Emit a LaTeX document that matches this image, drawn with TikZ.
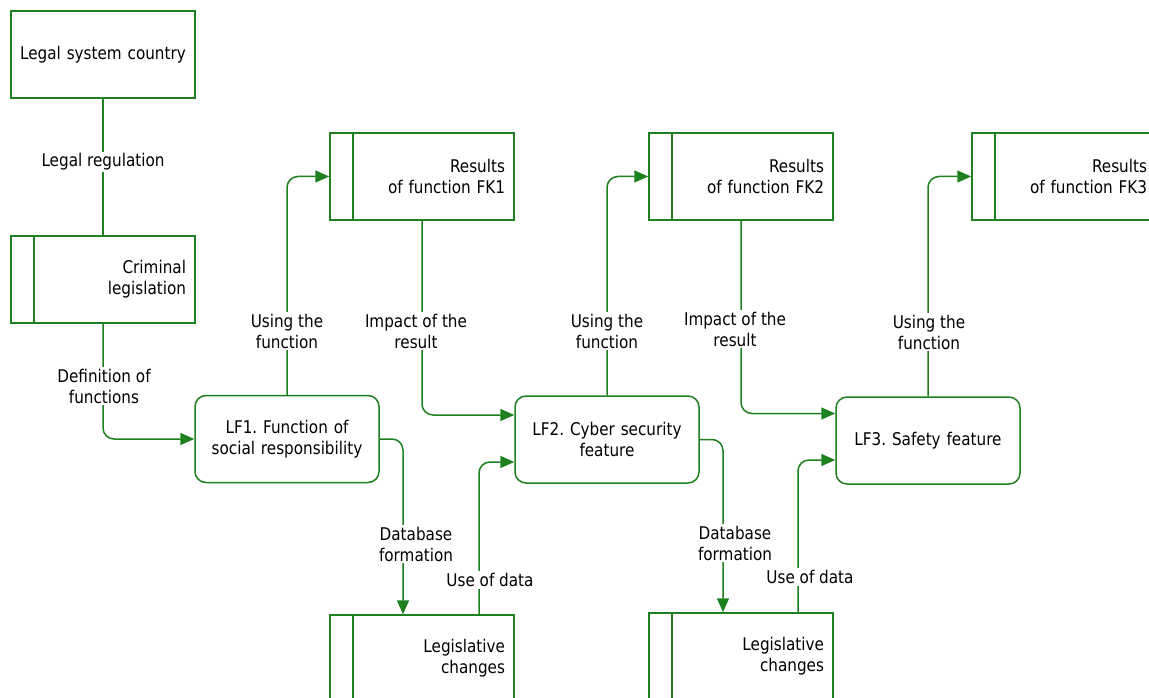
\documentclass[tikz,border=0pt]{standalone}
\usepackage{fontspec}
\setmainfont{DejaVu Sans}[FakeStretch=0.87]
\usetikzlibrary{arrows.meta}
\definecolor{dgreen}{RGB}{30,128,30}
\frenchspacing
\begin{document}
\begin{tikzpicture}[x=1pt,y=-1pt,
  every node/.style={font=\fontsize{17.5}{21}\selectfont\frenchspacing, text=black},
  store/.style={draw=dgreen, line width=1.5pt, minimum width=184pt, minimum height=87pt,
    inner xsep=9pt, inner ysep=0pt, text width=166pt, align=right,
    path picture={\draw[dgreen, line width=1.5pt]
      ([xshift=23pt]path picture bounding box.north west) --
      ([xshift=23pt]path picture bounding box.south west);}},
  plainbox/.style={draw=dgreen, line width=1.5pt, minimum width=184pt, minimum height=87pt,
    inner xsep=9pt, inner ysep=0pt, text width=166pt, align=center},
  procbox/.style={plainbox, rounded corners=11pt},
  conn/.style={draw=dgreen, line width=1.5pt, rounded corners=11pt},
  arr/.style={conn, -{Triangle[length=14pt,width=12pt]}},
  lbl/.style={fill=white, inner sep=2pt, align=center}
]
\useasboundingbox (0,0) rectangle (1149,698);

% boxes
\node[plainbox] (lsc) at (103,54.5) {Legal system country};
\node[store] (crim) at (103,279.5) {Criminal\\legislation};
\node[store] (fk1) at (422,176.5) {Results\\of function FK1};
\node[store] (fk2) at (741,176.5) {Results\\of function FK2};
\node[store] (fk3) at (1064,176.5) {Results\\of function FK3};
\node[procbox] (lf1) at (287,439) {LF1. Function of\\social responsibility};
\node[procbox] (lf2) at (607,439.5) {LF2. Cyber security\\feature};
\node[procbox] (lf3) at (928,440.5) {LF3. Safety feature};
\node[store] (lc1) at (422,658.5) {Legislative\\changes};
\node[store] (lc2) at (741,656.5) {Legislative\\changes};

% connectors
\draw[conn] (lsc.south) -- (crim.north);
\draw[arr] (crim.south) |- (lf1.west);
\draw[arr] (lf1.north) |- (fk1.west);
\draw[arr] (fk1.south) |- ([yshift=24.5pt]lf2.west);
\draw[arr] (lf2.north) |- (fk2.west);
\draw[arr] (fk2.south) |- ([yshift=27pt]lf3.west);
\draw[arr] (lf3.north) |- (fk3.west);
\draw[arr] (lf1.east) -| ([xshift=-19pt]lc1.north);
\draw[arr] ([xshift=57pt]lc1.north) |- ([yshift=-22.5pt]lf2.west);
\draw[arr] (lf2.east) -| ([xshift=-18pt]lc2.north);
\draw[arr] ([xshift=57pt]lc2.north) |- ([yshift=-19.5pt]lf3.west);

% labels
\node[lbl] (l1) at (103,162) {Legal regulation};
\node[lbl] (l2) at (104,386) {Definition of\\functions};
\node[lbl] (l3) at (287,331) {Using the\\function};
\node[lbl] (l4) at (416,331) {Impact of the\\result};
\node[lbl] (l5) at (607,331) {Using the\\function};
\node[lbl] (l6) at (735,329) {Impact of the\\result};
\node[lbl] (l7) at (929,332) {Using the\\function};
\node[lbl] (l8) at (416,544) {Database\\formation};
\node[lbl] (l9) at (735,543) {Database\\formation};
\node[lbl] (l10) at (490,580) {Use of data};
\node[lbl] (l11) at (810,577) {Use of data};
\end{tikzpicture}
\end{document}
